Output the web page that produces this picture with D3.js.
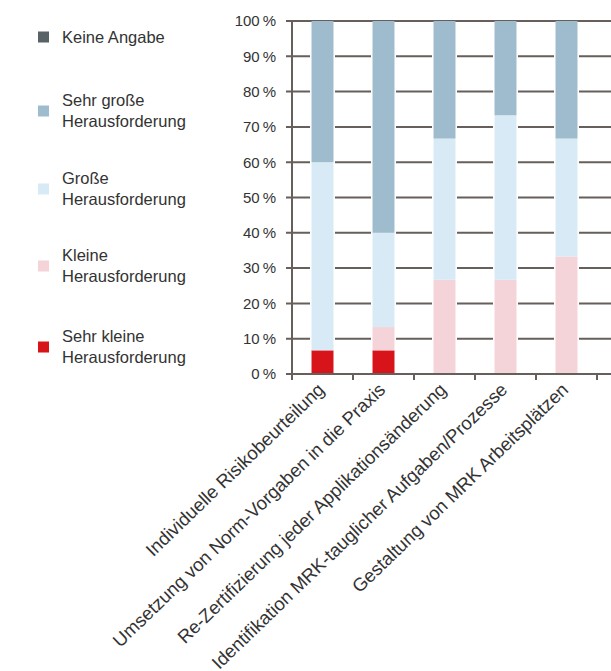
<!DOCTYPE html>
<html>
<head>
<meta charset="utf-8">
<script src="https://cdn.jsdelivr.net/npm/d3@7"></script>
<style>
  body { margin: 0; background: #fff; }
  svg { display: block; font-family: "Liberation Sans", Arial, sans-serif; }
</style>
</head>
<body>
<div id="chart"></div>
<script>
// data (shares in %, n = 15)
const categories = [
  "Individuelle Risikobeurteilung",
  "Umsetzung von Norm-Vorgaben in die Praxis",
  "Re-Zertifizierung jeder Applikationsänderung",
  "Identifikation MRK-tauglicher Aufgaben/Prozesse",
  "Gestaltung von MRK Arbeitsplätzen"
];
const seriesNames = ["Sehr kleine Herausforderung", "Kleine Herausforderung", "Große Herausforderung", "Sehr große Herausforderung", "Keine Angabe"];
const sehrKlein = [6.7, 6.7, 0, 0, 0];
const klein     = [0, 6.6, 26.7, 26.7, 33.3];
const gross     = [53.3, 26.7, 40, 46.6, 33.4];
const sehrGross = [40, 60, 33.3, 26.7, 33.3];
const keine     = [0, 0, 0, 0, 0];
const yTicks = [0, 10, 20, 30, 40, 50, 60, 70, 80, 90, 100];

const legendItems = [
  { key: "Keine Angabe", lines: ["Keine Angabe"] },
  { key: "Sehr große Herausforderung", lines: ["Sehr große", "Herausforderung"] },
  { key: "Große Herausforderung", lines: ["Große", "Herausforderung"] },
  { key: "Kleine Herausforderung", lines: ["Kleine", "Herausforderung"] },
  { key: "Sehr kleine Herausforderung", lines: ["Sehr kleine", "Herausforderung"] }
];

const colors = {
  "Sehr kleine Herausforderung": "#d8141b",
  "Kleine Herausforderung": "#f5d4d9",
  "Große Herausforderung": "#d8eaf5",
  "Sehr große Herausforderung": "#9ebccd",
  "Keine Angabe": "#586267"
};

const W = 611, H = 671;
const margin = { top: 21, left: 292 };
const width = 305, height = 353;
const gridColor = "#675f5b";

const svg = d3.select("#chart").append("svg")
  .attr("width", W).attr("height", H);

const g = svg.append("g").attr("transform", `translate(${margin.left},${margin.top})`);

const table = categories.map((c, i) => ({
  cat: c,
  "Sehr kleine Herausforderung": sehrKlein[i],
  "Kleine Herausforderung": klein[i],
  "Große Herausforderung": gross[i],
  "Sehr große Herausforderung": sehrGross[i],
  "Keine Angabe": keine[i]
}));

const x = d3.scaleBand().domain(categories).range([0, width]).paddingInner(0.64).paddingOuter(0.32);
const y = d3.scaleLinear().domain([0, 100]).range([height, 0]);

// gridlines (extend past the right edge, chart is cropped)
g.append("g").selectAll("line")
  .data(yTicks.filter(d => d > 0))
  .join("line")
    .attr("x1", -6).attr("x2", W)
    .attr("y1", d => y(d)).attr("y2", d => y(d))
    .attr("stroke", gridColor).attr("stroke-width", 2);

// white halo behind bars
g.append("g").selectAll("rect")
  .data(categories)
  .join("rect")
    .attr("x", d => x(d) - 1.5)
    .attr("width", x.bandwidth() + 3)
    .attr("y", y(100) + 1)
    .attr("height", height - 2)
    .attr("fill", "#fff");

const stack = d3.stack().keys(seriesNames)(table);

g.append("g").selectAll("g")
  .data(stack)
  .join("g")
    .attr("fill", d => colors[d.key])
  .selectAll("rect")
  .data(d => d)
  .join("rect")
    .attr("x", d => x(d.data.cat))
    .attr("width", x.bandwidth())
    .attr("y", d => y(d[1]))
    .attr("height", d => y(d[0]) - y(d[1]));

// y axis
const yAxis = g.append("g")
  .call(d3.axisLeft(y).tickValues(yTicks).tickSize(6).tickPadding(10)
    .tickFormat(d => d + "\u2009%"));
yAxis.select(".domain").remove();
yAxis.selectAll(".tick line").remove();
yAxis.selectAll("text").attr("fill", "#333").attr("font-size", 15)
  .attr("font-family", "'Liberation Sans', Arial, sans-serif");

// axis lines
g.append("line").attr("x1", 0).attr("x2", 0).attr("y1", y(100) - 1).attr("y2", height + 1)
  .attr("stroke", gridColor).attr("stroke-width", 2);
g.append("line").attr("x1", -6).attr("x2", W).attr("y1", height).attr("y2", height)
  .attr("stroke", gridColor).attr("stroke-width", 2);

// x ticks at band boundaries
const boundaries = d3.range(categories.length + 1).map(i => i * x.step());
g.append("g").selectAll("line")
  .data(boundaries)
  .join("line")
    .attr("x1", d => d).attr("x2", d => d)
    .attr("y1", height).attr("y2", height + 6)
    .attr("stroke", gridColor).attr("stroke-width", 2);

// x labels
g.append("g").selectAll("text")
  .data(categories)
  .join("text")
    .attr("transform", d => `translate(${x(d) + x.bandwidth() / 2 + 3},${height + 17}) rotate(-44)`)
    .attr("text-anchor", "end")
    .attr("font-size", 18.5)
    .attr("fill", "#333")
    .text(d => d);

// legend
const legend = svg.append("g");
const legendY = [37, 111, 189, 266, 347];
legendItems.forEach((item, i) => {
  const lg = legend.append("g").attr("transform", `translate(38,${legendY[i]})`);
  const n = item.lines.length;
  lg.append("rect").attr("x", 0).attr("y", -5.5).attr("width", 11).attr("height", 11)
    .attr("fill", colors[item.key]);
  item.lines.forEach((t, j) => {
    lg.append("text")
      .attr("x", 24)
      .attr("y", (j - (n - 1) / 2) * 21 + 5.5)
      .attr("font-size", 16.5)
      .attr("fill", "#333")
      .text(t);
  });
});
</script>
</body>
</html>
